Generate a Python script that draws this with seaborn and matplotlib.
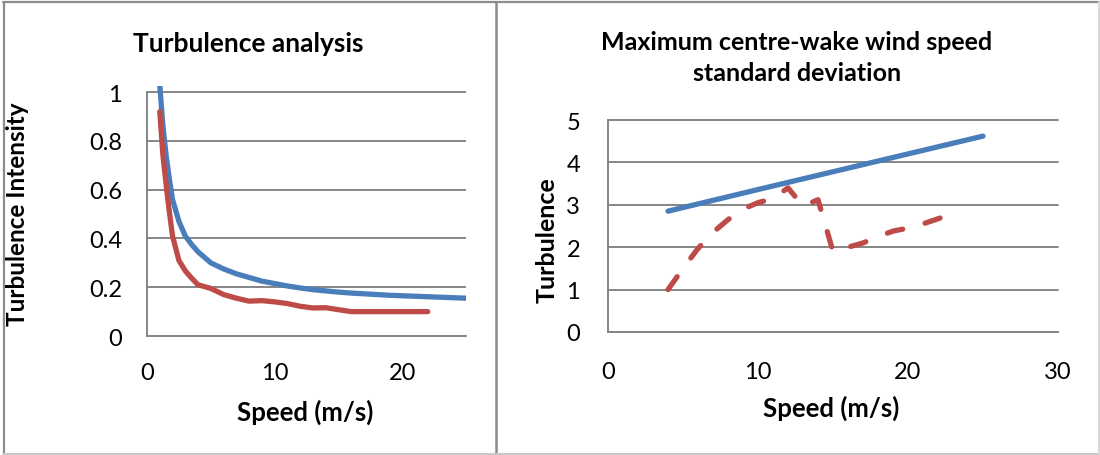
import matplotlib
matplotlib.use("Agg")
import matplotlib.pyplot as plt
import seaborn as sns
import pandas as pd
from matplotlib.lines import Line2D

# Turbulence intensity against wind speed (two curves)
ti_speed_blue = [1, 1.25, 1.5, 1.75, 2, 2.5, 3, 3.5, 4, 5, 6, 7, 8, 9, 10,
                 11, 12, 13, 14, 15, 16, 17, 18, 19, 20, 21, 22, 23, 24, 25]
ti_blue = [1.03, 0.86, 0.74, 0.645, 0.56, 0.47, 0.41, 0.375, 0.345, 0.30,
           0.275, 0.255, 0.24, 0.225, 0.215, 0.205, 0.197, 0.19, 0.185, 0.18,
           0.176, 0.173, 0.17, 0.167, 0.165, 0.163, 0.161, 0.159, 0.157,
           0.155]
ti_speed_red = [1, 1.25, 1.5, 1.75, 2, 2.5, 3, 3.5, 4, 5, 6, 7, 8, 9, 10, 11,
                12, 13, 14, 15, 16, 17, 18, 19, 20, 21, 22]
ti_red = [0.92, 0.74, 0.62, 0.51, 0.41, 0.31, 0.267, 0.237, 0.21, 0.195,
          0.17, 0.155, 0.143, 0.145, 0.14, 0.133, 0.122, 0.115, 0.116, 0.108,
          0.10, 0.10, 0.10, 0.10, 0.10, 0.10, 0.10]

# Maximum centre-wake wind speed standard deviation
sd_speed_blue = [4, 10, 15, 20, 25]
sd_blue = [2.85, 3.36, 3.78, 4.20, 4.62]
sd_speed_red = [4, 5, 6, 7, 8, 9, 10, 11, 12, 13, 14, 15, 16, 17, 18, 19, 20,
                21, 22, 23]
sd_red = [1.0, 1.5, 1.97, 2.35, 2.65, 2.9, 3.05, 3.15, 3.4, 2.97, 3.12, 1.9,
          2.0, 2.1, 2.25, 2.38, 2.45, 2.55, 2.67, 2.8]

left_xticks = [0, 10, 20]
left_yticks = [0, 0.2, 0.4, 0.6, 0.8, 1]
left_yticklabels = ["0", "0.2", "0.4", "0.6", "0.8", "1"]
right_xticks = [0, 10, 20, 30]
right_yticks = [0, 1, 2, 3, 4, 5]

BLUE = "#4A7EBB"
RED = "#BE4B48"
GRID = "#868686"

sns.set_style("white")
plt.rcParams["font.family"] = ["Lato", "DejaVu Sans"]

W, H = 1100, 456
fig = plt.figure(figsize=(W / 100, H / 100), dpi=100)


def px_axes(x0, x1, y_bottom, y_top):
    return fig.add_axes([x0 / W, 1 - y_bottom / H, (x1 - x0) / W,
                         (y_bottom - y_top) / H])


def style_axes(ax, pad_x, pad_y):
    ax.set_facecolor("white")
    ax.yaxis.grid(True, color=GRID, lw=1.4)
    ax.xaxis.grid(False)
    for side in ("top", "right"):
        ax.spines[side].set_visible(False)
    for side in ("left", "bottom"):
        ax.spines[side].set_color(GRID)
        ax.spines[side].set_linewidth(1.4)
    ax.tick_params(axis="both", direction="out", length=6, width=1.4,
                   color=GRID, labelsize=17, labelcolor="black")
    ax.tick_params(axis="x", pad=pad_x)
    ax.tick_params(axis="y", pad=pad_y)
    ax.set_xlabel("")
    ax.set_ylabel("")


LW = 3.8

# Left panel
ax1 = px_axes(147, 466, 337, 87)
df_b = pd.DataFrame({"speed": ti_speed_blue, "ti": ti_blue})
df_r = pd.DataFrame({"speed": ti_speed_red, "ti": ti_red})
sns.lineplot(data=df_b, x="speed", y="ti", ax=ax1, color=BLUE, linewidth=LW,
             solid_capstyle="round", solid_joinstyle="round", sort=False)
sns.lineplot(data=df_r, x="speed", y="ti", ax=ax1, color=RED, linewidth=LW,
             solid_capstyle="round", solid_joinstyle="round", sort=False)
ax1.set_xlim(0, 25)
ax1.set_ylim(0, 1.025)
ax1.set_xticks(left_xticks)
ax1.set_yticks(left_yticks)
ax1.set_yticklabels(left_yticklabels)
style_axes(ax1, 13, 12)
ax1.spines["left"].set_bounds(0, 1)

# Right panel
ax2 = px_axes(608, 1058, 333, 121)
df_b2 = pd.DataFrame({"speed": sd_speed_blue, "sd": sd_blue})
df_r2 = pd.DataFrame({"speed": sd_speed_red, "sd": sd_red})
sns.lineplot(data=df_b2, x="speed", y="sd", ax=ax2, color=BLUE, linewidth=LW,
             solid_capstyle="round", sort=False)
sns.lineplot(data=df_r2, x="speed", y="sd", ax=ax2, color=RED, linewidth=LW,
             linestyle=(0, (3.0, 4.4)), dash_capstyle="round",
             dash_joinstyle="round", sort=False)
ax2.set_xlim(0, 30)
ax2.set_ylim(0, 5)
ax2.set_xticks(right_xticks)
ax2.set_yticks(right_yticks)
style_axes(ax2, 15, 14)
for ln in ax2.get_ygridlines():
    ln.set_clip_on(False)

# Titles and axis labels
bold = dict(fontweight="bold", color="black", ha="center", va="center")
fig.text(248 / W, 1 - 44 / H, "Turbulence analysis", fontsize=19, **bold)
fig.text(18 / W, 1 - 214 / H, "Turbulence Intensity", fontsize=17.5,
         rotation=90, **bold)
fig.text(305 / W, 1 - 412 / H, "Speed (m/s)", fontsize=18.5, **bold)
fig.text(797 / W, 1 - 58 / H,
         "Maximum centre-wake wind speed\nstandard deviation",
         fontsize=18, linespacing=1.4, **bold)
fig.text(547 / W, 1 - 240 / H, "Turbulence", fontsize=18, rotation=90,
         **bold)
fig.text(831 / W, 1 - 408 / H, "Speed (m/s)", fontsize=18.5, **bold)

# Panel frames
def frame_line(xs, ys, color, lw):
    fig.add_artist(Line2D([x / W for x in xs], [1 - y / H for y in ys],
                          color=color, lw=lw))

frame_line([3, 1099], [2.5, 2.5], "#8c8c8c", 1.6)
frame_line([3.5, 3.5], [2.5, 455], "#8c8c8c", 1.6)
frame_line([496, 496], [2.5, 455], "#8a8a8a", 1.8)
frame_line([3, 1099], [455, 455], "#c8c8c8", 1.4)
frame_line([1099, 1099], [2.5, 455], "#d8d8d8", 1.4)

fig.savefig("out.png", dpi=100, facecolor="white")
